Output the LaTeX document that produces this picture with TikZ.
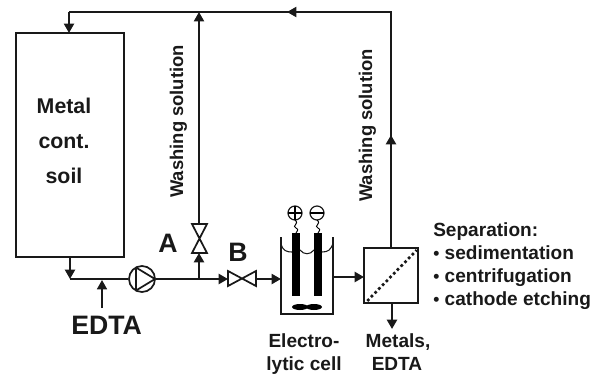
\documentclass[tikz,border=0pt]{standalone}
\usepackage{fontspec}
\setmainfont{Liberation Sans}
\usetikzlibrary{arrows.meta,calc}
\newcommand{\smallbul}{\makebox[8.6pt][l]{\fontsize{13pt}{13pt}\selectfont •}}
\tikzset{
 pipe/.style={line width=1.5pt,draw=black!90},
 heavy/.style={line width=2pt,draw=black!90},
 flow/.style={pipe,-{Triangle[length=7pt,width=7.5pt]}},
 hflow/.style={heavy,-{Triangle[length=7pt,width=7.5pt]}},
 lab/.style={font=\bfseries\fontsize{14.3pt}{17pt}\selectfont,text=black!90,inner sep=0pt,anchor=base west},
 midlab/.style={font=\bfseries\fontsize{14.3pt}{17pt}\selectfont,text=black!90,inner sep=0pt,anchor=base},
 soillab/.style={font=\bfseries\fontsize{16pt}{18pt}\selectfont,text=black!90,inner sep=0pt,anchor=base},
 rotlab/.style={font=\bfseries\fontsize{13.8pt}{16pt}\selectfont,text=black!90,inner sep=0pt,rotate=90,anchor=base west},
 biglab/.style={font=\bfseries\fontsize{20pt}{22pt}\selectfont,text=black!90,inner sep=0pt,anchor=base west},
 valvepart/.style={line width=1.3pt,draw=black!90,fill=white}
}
\begin{document}
\begin{tikzpicture}[x=0.75pt,y=-0.75pt]
\useasboundingbox (0,0) rectangle (603,376);
% soil
\node[draw=black!90,line width=1.5pt,minimum width=80.5pt,minimum height=168pt,inner sep=0pt] (soil) at (70,145) {};
\node[soillab] (t1) at (64,113) {Metal};
\node[soillab] (t2) at (64,148) {cont.};
\node[soillab] (t3) at (64,183) {soil};
% coordinates
\coordinate (tl) at (69,12);
\coordinate (tr) at (391,12);
\coordinate (tm) at (199,12);
\coordinate (j0) at (70,279);
\coordinate (j1) at (199,279);
\coordinate (ed) at (102,308);
% pump
\node[circle,draw=black!90,line width=1.3pt,minimum size=19.5pt,inner sep=0pt] (pump) at (142,279) {};
\draw[line width=1.3pt,black!90,line join=round] (136,267.5) -- (136,290.5) -- (155,279) -- cycle;
% valves
\draw[valvepart] (192,224) -- (207,224) -- (192,253) -- (207,253) -- cycle;
\draw[valvepart] (228,271) -- (228,286) -- (256,271) -- (256,286) -- cycle;
% cell
\coordinate (cl) at (281,279);
\draw[pipe] (281,237) -- (281,314) -- (333,314) -- (333,237);
\fill[black] (292,233) rectangle (300,296);
\fill[black] (314,233) rectangle (322,296);
\draw[line width=.8pt,black!90] (281,244) .. controls (283,251) and (287,252) .. (292,252);
\draw[line width=.8pt,black!90] (300,250) .. controls (304,255) and (310,255) .. (314,250);
\draw[line width=.8pt,black!90] (322,252) .. controls (328,252) and (331,250) .. (333,243);
\fill[black] (300,307) ellipse [x radius=8,y radius=3];
\fill[black] (314,307) ellipse [x radius=8,y radius=3];
\node[circle,draw=black!90,line width=.9pt,minimum size=10.5pt,inner sep=0pt] (plus) at (295,213) {};
\draw[line width=.9pt] (288,213) -- (302,213) (295,206) -- (295,220);
\node[circle,draw=black!90,line width=.9pt,minimum size=10.5pt,inner sep=0pt] (minus) at (317,213) {};
\draw[line width=.9pt] (310,213) -- (324,213);
\draw[line width=.7pt] (295,220) .. controls (300,224) and (291,226) .. (296,228) .. controls (300,230) and (296,231) .. (296,233);
\draw[line width=.7pt] (317,220) .. controls (322,224) and (313,226) .. (318,228) .. controls (322,230) and (318,231) .. (318,233);
% separator
\node[draw=black!90,line width=1.6pt,minimum width=40pt,minimum height=41pt,inner sep=0pt] (sep) at (391,275.5) {};
\draw[line width=2pt,dotted,black!90] ($(sep.south west)+(4,-3)$) -- ($(sep.north east)+(-2,3)$);
% pipes
\draw[pipe,line join=miter] (391,248) -- (tr) -- (tl);
\draw[hflow] (391,248) -- (391,135);
\draw[flow] (tr) -- (287,12);
\draw[flow] (tl) -- (69,33);
\draw[flow] (199,224) -- (tm);
\draw[flow] (70,257) -- (j0);
\draw[pipe,line width=1.2pt] (j0) -- (pump);
\draw[flow,line width=1.3pt] (ed) -- (102,280);
\draw[hflow] (pump) -- (228,279);
\draw[hflow] (j1) -- (199,253);
\draw[flow] (256,279) -- (cl);
\draw[hflow] (333,277) -- (364,277);
\draw[hflow] (392,303) -- (392,329);
% text
\node[rotlab] (w1) at (183,198) {Washing solution};
\node[rotlab] (w2) at (372,202) {Washing solution};
\node[biglab] (A) at (158,252) {A};
\node[biglab] (B) at (228,261) {B};
\node[biglab] (E) at (71,334) {EDTA};
\node[midlab] (ec1) at (304,347) {Electro-};
\node[midlab] (ec2) at (304,370) {lytic cell};
\node[midlab] (me1) at (398,347) {Metals,};
\node[midlab] (me2) at (397,370) {EDTA};
\node[lab] (s0) at (433,236) {Separation:};
\node[lab] (s1) at (433,259) {\smallbul sedimentation};
\node[lab] (s2) at (433,282) {\smallbul centrifugation};
\node[lab] (s3) at (433,305) {\smallbul cathode etching};
\end{tikzpicture}
\end{document}
